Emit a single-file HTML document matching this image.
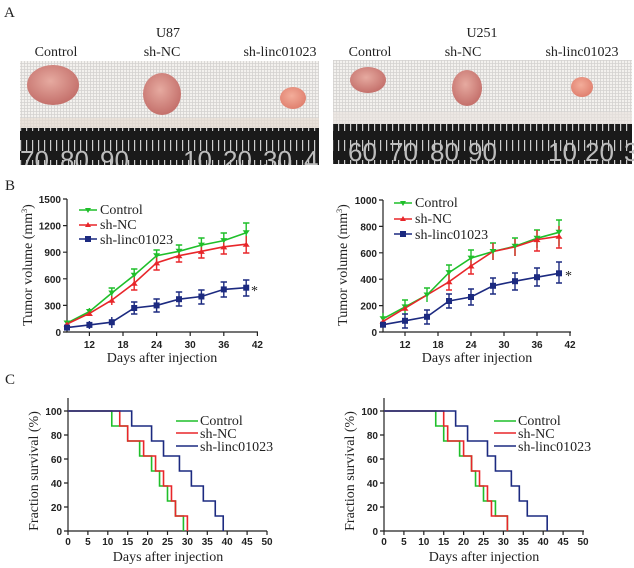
<!DOCTYPE html>
<html><head><meta charset="utf-8"><style>
html,body{margin:0;padding:0;background:#fff;width:634px;height:568px;overflow:hidden}
svg{display:block}
.s{font-family:"Liberation Serif",serif;fill:#222}
.t{font-family:"Liberation Sans",sans-serif;font-weight:bold;font-size:10px;fill:#222}
.rn{font-family:"Liberation Sans",sans-serif;font-size:26px;fill:#bdbdbd}
</style></head><body>
<svg width="634" height="568" viewBox="0 0 634 568" xmlns="http://www.w3.org/2000/svg">
<defs>
<pattern id="grid" width="3" height="3" patternUnits="userSpaceOnUse">
<rect width="3" height="3" fill="#f3f1ee"/><path d="M0 0.5H3M0.5 0V3" stroke="#d4d2d0" stroke-width="0.8"/>
</pattern>
<pattern id="rt" width="6" height="20" patternUnits="userSpaceOnUse">
<rect width="6" height="20" fill="#1a1a1a"/><rect x="2" y="0" width="1.2" height="11" fill="#ccc"/>
</pattern>
<radialGradient id="tm" cx="45%" cy="40%" r="60%"><stop offset="0" stop-color="#e6aaa0"/><stop offset="1" stop-color="#c4706b"/></radialGradient>
<radialGradient id="tm2" cx="45%" cy="40%" r="60%"><stop offset="0" stop-color="#f3ad9a"/><stop offset="1" stop-color="#e0806f"/></radialGradient>
</defs>
<text x="4" y="17" class="s" font-size="15">A</text>
<text x="168" y="37" class="s" font-size="14" text-anchor="middle">U87</text>
<text x="482" y="37" class="s" font-size="14" text-anchor="middle">U251</text>
<g class="s" font-size="14" text-anchor="middle">
<text x="56" y="56">Control</text><text x="162" y="56">sh-NC</text><text x="280" y="56">sh-linc01023</text>
<text x="370" y="56">Control</text><text x="463" y="56">sh-NC</text><text x="582" y="56">sh-linc01023</text>
</g>
<rect x="20" y="61" width="299" height="67" fill="url(#grid)"/>
<rect x="20" y="118" width="299" height="10" fill="#e6dcd2" opacity="0.7"/>
<rect x="20" y="128" width="299" height="37" fill="url(#rt)"/>
<ellipse cx="53" cy="85" rx="26" ry="20" fill="url(#tm)"/>
<ellipse cx="162" cy="94" rx="19" ry="21" fill="url(#tm)"/>
<ellipse cx="293" cy="98" rx="13" ry="11" fill="url(#tm2)"/>
<g class="rn"><text x="20" y="169">70</text><text x="60" y="169">80</text><text x="100" y="169">90</text><text x="183" y="169">10</text><text x="223" y="169">20</text><text x="263" y="169">30</text><text x="304" y="169">4</text></g>
<rect x="333" y="60" width="299" height="64" fill="url(#grid)"/>
<rect x="333" y="112" width="299" height="12" fill="#e8e3de" opacity="0.7"/>
<rect x="333" y="124" width="299" height="40" fill="url(#rt)"/>
<ellipse cx="368" cy="80" rx="18" ry="13" fill="url(#tm)"/>
<ellipse cx="467" cy="88" rx="15" ry="18" fill="url(#tm)"/>
<ellipse cx="582" cy="87" rx="11" ry="10" fill="url(#tm2)"/>
<g class="rn"><text x="348" y="161">60</text><text x="389" y="161">70</text><text x="430" y="161">80</text><text x="468" y="161">90</text><text x="548" y="161">10</text><text x="585" y="161">20</text><text x="624" y="161">3</text></g>
<rect x="0" y="165" width="634" height="6" fill="#fff"/>

<text x="5" y="190" class="s" font-size="15">B</text>
<g stroke="#222" stroke-width="1.2" fill="none">
<path d="M67 199V332H258"/>
<path d="M63 199H67M63 225.6H67M63 252.2H67M63 278.8H67M63 305.4H67M63 332H67"/>
<path d="M89.4 332V336M123 332V336M156.6 332V336M190.2 332V336M223.8 332V336M257.4 332V336"/>
</g>
<g class="t" text-anchor="end"><text x="61" y="203">1500</text><text x="61" y="229.6">1200</text><text x="61" y="256.2">900</text><text x="61" y="282.8">600</text><text x="61" y="309.4">300</text><text x="61" y="336">0</text></g>
<g class="t" text-anchor="middle"><text x="89.4" y="348">12</text><text x="123" y="348">18</text><text x="156.6" y="348">24</text><text x="190.2" y="348">30</text><text x="223.8" y="348">36</text><text x="257.4" y="348">42</text></g>
<text x="162" y="362" class="s" font-size="14" text-anchor="middle">Days after injection</text>
<text transform="translate(32,265) rotate(-90)" class="s" font-size="14" text-anchor="middle">Tumor volume (mm<tspan dy="-5" font-size="8">3</tspan><tspan dy="5">)</tspan></text>
<g fill="none" stroke-width="1.6">
<polyline stroke="#1fbf2a" points="67,323.1 89.4,311.6 111.8,293 134.2,275.2 156.6,255.7 179,251.3 201.4,245.1 223.8,240.6 246.2,232.7"/>
<polyline stroke="#e8262a" points="67,324 89.4,313.4 111.8,300.1 134.2,283.2 156.6,262.8 179,255.7 201.4,251.3 223.8,246.8 246.2,244.2"/>
<polyline stroke="#1c2a80" points="67,327.6 89.4,324.9 111.8,322.2 134.2,308 156.6,305.4 179,299.2 201.4,296.5 223.8,289.4 246.2,287.7"/>
</g>
<g stroke-width="1.4">
<path stroke="#1fbf2a" d="M89.4 308V316M111.8 288V298M134.2 269V281M156.6 250V262M179 245V258M201.4 238V252M223.8 233V248M246.2 223V243M243 223H249.4M220.6 233H227M198.2 238H204.6M175.8 245H182.2M153.4 250H159.8M131 269H137.4M108.6 288H115"/>
<path stroke="#e8262a" d="M111.8 296V305M134.2 277V290M156.6 257V270M179 250V262M201.4 245V258M223.8 240V254M246.2 236V253M243 253H249.4M220.6 254H227M198.2 258H204.6M175.8 262H182.2M153.4 270H159.8M131 290H137.4"/>
<path stroke="#1c2a80" d="M89.4 321V329M111.8 317V328M134.2 302V314M156.6 299V312M179 292V306M201.4 290V304M223.8 282V297M246.2 280V296M243 280H249.4M243 296H249.4M220.6 282H227M220.6 297H227M198.2 290H204.6M198.2 304H204.6M175.8 292H182.2M175.8 306H182.2M153.4 299H159.8M153.4 312H159.8M131 302H137.4M131 314H137.4"/>
</g>
<g fill="#1fbf2a"><path d="M63.5 320.5h7l-3.5 5z"/><path d="M85.9 309h7l-3.5 5z"/><path d="M108.3 290.5h7l-3.5 5z"/><path d="M130.7 272.7h7l-3.5 5z"/><path d="M153.1 253.2h7l-3.5 5z"/><path d="M175.5 248.8h7l-3.5 5z"/><path d="M197.9 242.6h7l-3.5 5z"/><path d="M220.3 238.1h7l-3.5 5z"/><path d="M242.7 230.2h7l-3.5 5z"/></g>
<g fill="#e8262a"><path d="M63.5 326.5h7l-3.5-5z"/><path d="M85.9 316h7l-3.5-5z"/><path d="M108.3 302.7h7l-3.5-5z"/><path d="M130.7 285.8h7l-3.5-5z"/><path d="M153.1 265.4h7l-3.5-5z"/><path d="M175.5 258.3h7l-3.5-5z"/><path d="M197.9 253.9h7l-3.5-5z"/><path d="M220.3 249.4h7l-3.5-5z"/><path d="M242.7 246.8h7l-3.5-5z"/></g>
<g fill="#1c2a80"><rect x="64" y="324.6" width="6" height="6"/><rect x="86.4" y="321.9" width="6" height="6"/><rect x="108.8" y="319.2" width="6" height="6"/><rect x="131.2" y="305" width="6" height="6"/><rect x="153.6" y="302.4" width="6" height="6"/><rect x="176" y="296.2" width="6" height="6"/><rect x="198.4" y="293.5" width="6" height="6"/><rect x="220.8" y="286.4" width="6" height="6"/><rect x="243.2" y="284.7" width="6" height="6"/></g>
<text x="251" y="295" class="s" font-size="14">*</text>
<g stroke-width="1.6"><path stroke="#1fbf2a" d="M79 210H97"/><path stroke="#e8262a" d="M79 225H97"/><path stroke="#1c2a80" d="M79 239H97"/></g>
<path fill="#1fbf2a" d="M85 208h6l-3 5z"/><path fill="#e8262a" d="M85 227h6l-3-5z"/><rect x="85" y="236" width="6" height="6" fill="#1c2a80"/>
<g class="s" font-size="14"><text x="100" y="214">Control</text><text x="100" y="229">sh-NC</text><text x="100" y="244">sh-linc01023</text></g>

<g stroke="#222" stroke-width="1.2" fill="none">
<path d="M383 200V332H571"/>
<path d="M379 200H383M379 226.4H383M379 252.8H383M379 279.2H383M379 305.6H383M379 332H383"/>
<path d="M405 332V336M438 332V336M471 332V336M504 332V336M537 332V336M570 332V336"/>
</g>
<g class="t" text-anchor="end"><text x="377" y="204">1000</text><text x="377" y="230.4">800</text><text x="377" y="256.8">600</text><text x="377" y="283.2">400</text><text x="377" y="309.6">200</text><text x="377" y="336">0</text></g>
<g class="t" text-anchor="middle"><text x="405" y="348">12</text><text x="438" y="348">18</text><text x="471" y="348">24</text><text x="504" y="348">30</text><text x="537" y="348">36</text><text x="570" y="348">42</text></g>
<text x="477" y="362" class="s" font-size="14" text-anchor="middle">Days after injection</text>
<text transform="translate(347,265) rotate(-90)" class="s" font-size="14" text-anchor="middle">Tumor volume (mm<tspan dy="-5" font-size="8">3</tspan><tspan dy="5">)</tspan></text>
<g fill="none" stroke-width="1.6">
<polyline stroke="#1fbf2a" points="383,318.8 405,306.9 427,295 449,272.6 471,258.1 493,251.5 515,246.2 537,238.3 559,232.3"/>
<polyline stroke="#e8262a" points="383,321.4 405,308.2 427,295 449,281.8 471,266 493,251.5 515,246.9 537,239.6 559,236.3"/>
<polyline stroke="#1c2a80" points="383,324.7 405,320.8 427,316.8 449,301 471,297 493,285.8 515,281.2 537,277.2 559,273.3"/>
</g>
<g stroke-width="1.4">
<path stroke="#1fbf2a" d="M383 313V324M405 300V314M427 288V302M449 265V281M471 250V267M493 243V260M515 238V256M537 230V248M559 220V246M556 220H562M534 230H540M512 238H518M490 243H496M468 250H474M446 265H452M424 288H430M402 300H408"/>
<path stroke="#e8262a" d="M449 274V290M471 258V274M493 243V260M515 239V256M537 230V251M559 226V248M556 248H562M534 251H540M446 290H452M468 274H474"/>
<path stroke="#1c2a80" d="M405 314V328M427 310V324M449 294V308M471 289V305M493 278V294M515 273V290M537 268V286M559 262V283M556 262H562M556 283H562M534 268H540M534 286H540M512 273H518M512 290H518M490 278H496M490 294H496M468 289H474M468 305H474M446 294H452M446 308H452M424 310H430M424 324H430M402 314H408M402 328H408"/>
</g>
<g fill="#1fbf2a"><path d="M379.5 316.3h7l-3.5 5z"/><path d="M401.5 304.4h7l-3.5 5z"/><path d="M423.5 292.5h7l-3.5 5z"/><path d="M445.5 270.1h7l-3.5 5z"/><path d="M467.5 255.6h7l-3.5 5z"/><path d="M489.5 249h7l-3.5 5z"/><path d="M511.5 243.7h7l-3.5 5z"/><path d="M533.5 235.8h7l-3.5 5z"/><path d="M555.5 229.8h7l-3.5 5z"/></g>
<g fill="#e8262a"><path d="M379.5 323.9h7l-3.5-5z"/><path d="M401.5 310.7h7l-3.5-5z"/><path d="M445.5 284.3h7l-3.5-5z"/><path d="M467.5 268.5h7l-3.5-5z"/><path d="M533.5 242.1h7l-3.5-5z"/><path d="M555.5 238.8h7l-3.5-5z"/></g>
<g fill="#1c2a80"><rect x="380" y="321.7" width="6" height="6"/><rect x="402" y="317.8" width="6" height="6"/><rect x="424" y="313.8" width="6" height="6"/><rect x="446" y="298" width="6" height="6"/><rect x="468" y="294" width="6" height="6"/><rect x="490" y="282.8" width="6" height="6"/><rect x="512" y="278.2" width="6" height="6"/><rect x="534" y="274.2" width="6" height="6"/><rect x="556" y="270.3" width="6" height="6"/></g>
<text x="565" y="280" class="s" font-size="14">*</text>
<g stroke-width="1.6"><path stroke="#1fbf2a" d="M394 203H412"/><path stroke="#e8262a" d="M394 219H412"/><path stroke="#1c2a80" d="M394 234H412"/></g>
<path fill="#1fbf2a" d="M400 201h6l-3 5z"/><path fill="#e8262a" d="M400 221h6l-3-5z"/><rect x="400" y="231" width="6" height="6" fill="#1c2a80"/>
<g class="s" font-size="14"><text x="415" y="207">Control</text><text x="415" y="223">sh-NC</text><text x="415" y="239">sh-linc01023</text></g>

<text x="5" y="384" class="s" font-size="15">C</text>
<g stroke="#222" stroke-width="1.2" fill="none">
<path d="M68 398V531H267"/>
<path d="M64 411H68M64 435H68M64 459H68M64 483H68M64 507H68M64 531H68"/>
<path d="M68 531V535M87.9 531V535M107.8 531V535M127.7 531V535M147.6 531V535M167.5 531V535M187.4 531V535M207.3 531V535M227.2 531V535M247.1 531V535M267 531V535"/>
</g>
<g class="t" text-anchor="end"><text x="62" y="415">100</text><text x="62" y="439">80</text><text x="62" y="463">60</text><text x="62" y="487">40</text><text x="62" y="511">20</text><text x="62" y="535">0</text></g>
<g class="t" text-anchor="middle"><text x="68" y="545">0</text><text x="87.9" y="545">5</text><text x="107.8" y="545">10</text><text x="127.7" y="545">15</text><text x="147.6" y="545">20</text><text x="167.5" y="545">25</text><text x="187.4" y="545">30</text><text x="207.3" y="545">35</text><text x="227.2" y="545">40</text><text x="247.1" y="545">45</text><text x="267" y="545">50</text></g>
<text x="168" y="561" class="s" font-size="14" text-anchor="middle">Days after injection</text>
<text transform="translate(38,471) rotate(-90)" class="s" font-size="14" text-anchor="middle">Fraction survival (%)</text>
<g transform="translate(68,531) scale(3.98,-1.2)" fill="none" stroke-width="1.6">
<path vector-effect="non-scaling-stroke" stroke="#1fbf2a" d="M0 100H11V87.5H15V75H18V62.5H21V50H23V37.5H25V25H27V12.5H29V0"/>
<path vector-effect="non-scaling-stroke" stroke="#e8262a" d="M0 100H13V87.5H15V75H19V62.5H22V50H24V37.5H26V25H27V12.5H30V0"/>
<path vector-effect="non-scaling-stroke" stroke="#1c2a80" d="M0 100H16V87.5H21V75H24V62.5H28V50H31V37.5H34V25H37V12.5H39V0"/>
</g>
<g stroke-width="1.6"><path stroke="#1fbf2a" d="M176 421H198"/><path stroke="#e8262a" d="M176 433H198"/><path stroke="#1c2a80" d="M176 446H198"/></g>
<g class="s" font-size="14"><text x="200" y="425">Control</text><text x="200" y="438">sh-NC</text><text x="200" y="451">sh-linc01023</text></g>

<g stroke="#222" stroke-width="1.2" fill="none">
<path d="M384 398V531H584"/>
<path d="M380 411H384M380 435H384M380 459H384M380 483H384M380 507H384M380 531H384"/>
<path d="M384 531V535M403.9 531V535M423.8 531V535M443.7 531V535M463.6 531V535M483.5 531V535M503.4 531V535M523.3 531V535M543.2 531V535M563.1 531V535M583 531V535"/>
</g>
<g class="t" text-anchor="end"><text x="378" y="415">100</text><text x="378" y="439">80</text><text x="378" y="463">60</text><text x="378" y="487">40</text><text x="378" y="511">20</text><text x="378" y="535">0</text></g>
<g class="t" text-anchor="middle"><text x="384" y="545">0</text><text x="403.9" y="545">5</text><text x="423.8" y="545">10</text><text x="443.7" y="545">15</text><text x="463.6" y="545">20</text><text x="483.5" y="545">25</text><text x="503.4" y="545">30</text><text x="523.3" y="545">35</text><text x="543.2" y="545">40</text><text x="563.1" y="545">45</text><text x="583" y="545">50</text></g>
<text x="484" y="561" class="s" font-size="14" text-anchor="middle">Days after injection</text>
<text transform="translate(354,471) rotate(-90)" class="s" font-size="14" text-anchor="middle">Fraction survival (%)</text>
<g transform="translate(384,531) scale(3.98,-1.2)" fill="none" stroke-width="1.6">
<path vector-effect="non-scaling-stroke" stroke="#1fbf2a" d="M0 100H13V87.5H15V75H19V62.5H22V50H23V37.5H25V25H28V12.5H31V0"/>
<path vector-effect="non-scaling-stroke" stroke="#e8262a" d="M0 100H15V87.5H16V75H20V62.5H22V50H24V37.5H26V25H27V12.5H31V0"/>
<path vector-effect="non-scaling-stroke" stroke="#1c2a80" d="M0 100H18V87.5H21V75H26V62.5H28V50H32V37.5H34V25H36V12.5H41V0"/>
</g>
<g stroke-width="1.6"><path stroke="#1fbf2a" d="M494 421H516"/><path stroke="#e8262a" d="M494 433H516"/><path stroke="#1c2a80" d="M494 446H516"/></g>
<g class="s" font-size="14"><text x="518" y="425">Control</text><text x="518" y="438">sh-NC</text><text x="518" y="451">sh-linc01023</text></g>
</svg>
</body></html>
